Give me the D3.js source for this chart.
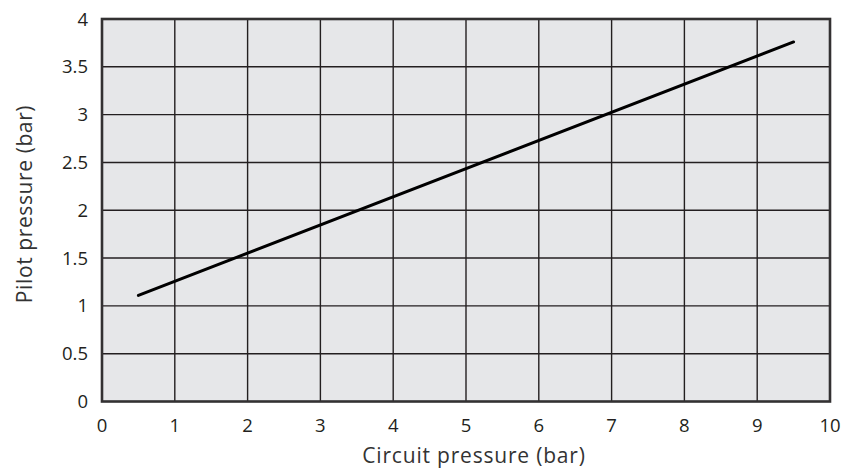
<!DOCTYPE html>
<html><head><meta charset="utf-8">
<script src="https://cdn.jsdelivr.net/npm/d3@7"></script>
<style>
body{margin:0;background:#fff;}
svg text{font-family:"Open Sans",sans-serif;}
</style></head>
<body><svg id="c" width="843" height="476"></svg>
<script>
const xTicks = [0,1,2,3,4,5,6,7,8,9,10];
const yTicks = [0,0.5,1,1.5,2,2.5,3,3.5,4];
const circuitPressure = [0.5, 9.5];
const pilotPressure = [1.11, 3.76];
const xTitle = "Circuit pressure (bar)";
const yTitle = "Pilot pressure (bar)";

const svg = d3.select("#c");
const L=102, R=830, T=19, B=401.5;
const x = d3.scaleLinear().domain([0,10]).range([L,R]);
const y = d3.scaleLinear().domain([0,4]).range([B,T]);

svg.append("rect").attr("x",L).attr("y",T).attr("width",R-L).attr("height",B-T).attr("fill","#e6e7e9");

const g = svg.append("g");
g.selectAll("line.vx").data(xTicks.slice(1,-1)).join("line")
 .attr("x1",d=>x(d)).attr("x2",d=>x(d)).attr("y1",T).attr("y2",B)
 .attr("stroke","#231f20").attr("stroke-width",1.4);
g.selectAll("line.hy").data(yTicks.slice(1,-1)).join("line")
 .attr("y1",d=>y(d)).attr("y2",d=>y(d)).attr("x1",L).attr("x2",R)
 .attr("stroke","#231f20").attr("stroke-width",1.4);

svg.append("rect").attr("x",L).attr("y",T).attr("width",R-L).attr("height",B-T)
 .attr("fill","none").attr("stroke","#333132").attr("stroke-width",2.6);

const pts = circuitPressure.map((c,i)=>[c,pilotPressure[i]]);
svg.append("path").datum(pts)
 .attr("d",d3.line().x(d=>x(d[0])).y(d=>y(d[1])))
 .attr("fill","none").attr("stroke","#000").attr("stroke-width",3).attr("stroke-linecap","round");

svg.selectAll("text.xt").data(xTicks).join("text")
 .attr("x",d=>x(d)).attr("y",432).attr("text-anchor","middle")
 .attr("font-size",18.5).attr("fill","#231f20").text(d=>d);
svg.selectAll("text.yt").data(yTicks).join("text")
 .attr("x",88).attr("y",d=>y(d)+6.6).attr("text-anchor","end")
 .attr("font-size",18.5).attr("fill","#231f20").text(d=>d);

svg.append("text").attr("x",474).attr("y",463).attr("text-anchor","middle")
 .attr("font-size",21).attr("letter-spacing",0.8).attr("fill","#333").text(xTitle);
svg.append("text").attr("transform",`translate(32,204) rotate(-90)`).attr("text-anchor","middle")
 .attr("font-size",21).attr("letter-spacing",0.6).attr("fill","#333").text(yTitle);
</script></body></html>
